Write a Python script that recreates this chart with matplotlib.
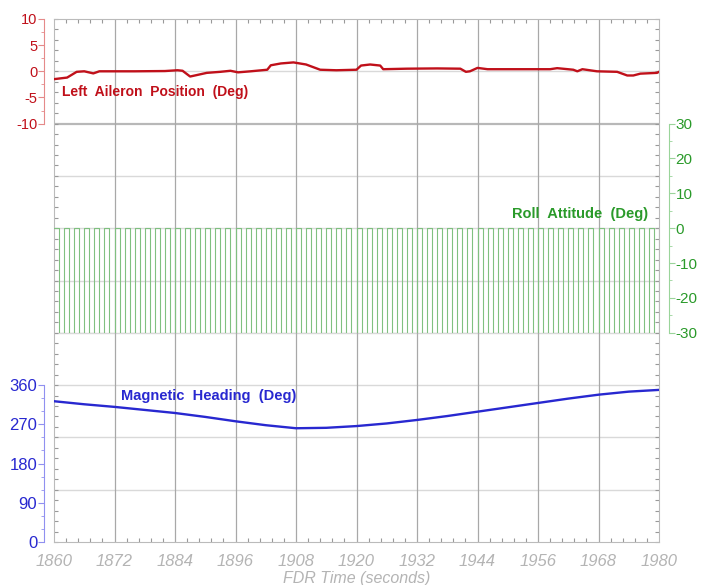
import numpy as np
import matplotlib.pyplot as plt
from matplotlib.ticker import MultipleLocator

plt.rcParams['font.family'] = ['Liberation Sans', 'DejaVu Sans']
plt.rcParams['axes.unicode_minus'] = False

# FDR traces
aileron_t = [1860, 1862.6, 1864.5, 1866, 1867.8, 1869, 1876, 1882, 1884.5, 1885.5,
             1887, 1890.3, 1893, 1895, 1896.5, 1899, 1902.3, 1903, 1905, 1907.5,
             1910, 1912.8, 1916, 1920, 1920.9, 1922.7, 1924.7, 1925.3, 1930, 1936,
             1940.6, 1941.7, 1942.5, 1944, 1946, 1952, 1958.4, 1959.8, 1963, 1963.8,
             1964.8, 1967.7, 1971.7, 1973.7, 1974.9, 1976.3, 1979.6, 1980]
aileron = [-1.5, -1.2, -0.1, 0.0, -0.4, 0.0, 0.0, 0.05, 0.2, 0.1,
           -1.0, -0.3, -0.1, 0.1, -0.2, 0.0, 0.3, 1.15, 1.5, 1.7,
           1.3, 0.3, 0.2, 0.3, 1.1, 1.3, 1.1, 0.4, 0.5, 0.55,
           0.5, -0.1, 0.0, 0.65, 0.4, 0.4, 0.4, 0.6, 0.3, 0.0,
           0.4, 0.0, -0.1, -0.8, -0.8, -0.45, -0.3, -0.1]

roll_t = np.arange(1860, 1981)
roll = [0, -30, 0, -30, 0, -30, 0, -30, 0, -30, 0, -30, 0, -30, 0, -30, 0, -30, 0, -30,
        0, -30, 0, -30, 0, -30, 0, -30, 0, -30, 0, -30, 0, -30, 0, -30, 0, -30, 0, -30,
        0, -30, 0, -30, 0, -30, 0, -30, 0, -30, 0, -30, 0, -30, 0, -30, 0, -30, 0, -30,
        0, -30, 0, -30, 0, -30, 0, -30, 0, -30, 0, -30, 0, -30, 0, -30, 0, -30, 0, -30,
        0, -30, 0, -30, 0, -30, 0, -30, 0, -30, 0, -30, 0, -30, 0, -30, 0, -30, 0, -30,
        0, -30, 0, -30, 0, -30, 0, -30, 0, -30, 0, -30, 0, -30, 0, -30, 0, -30, 0, -30,
        0]

heading_t = [1860, 1866, 1872, 1878, 1884, 1890, 1896, 1902, 1908, 1914,
             1920, 1926, 1932, 1938, 1944, 1950, 1956, 1962, 1968, 1974, 1980]
heading = [323, 316, 310, 303, 296, 287, 277, 268, 261, 262,
           266, 272, 280, 289, 299, 309, 319, 329, 338, 345, 349]

RED = '#c0101a'
GREEN = '#2a9a2a'
BLUE = '#2828d0'

fig = plt.figure(figsize=(7.01, 5.85), dpi=100)
L, B, W, H = 54 / 701, 43 / 585, 605 / 701, 523 / 585


def band(d0, d1):
    return [L, B + d0 * H / 10, W, (d1 - d0) * H / 10]


# background frame with grid
ax = fig.add_axes([L, B, W, H])
ax.set_xlim(1860, 1980)
ax.set_ylim(0, 10)
ax.xaxis.set_major_locator(MultipleLocator(12))
ax.xaxis.set_minor_locator(MultipleLocator(2.4))
ax.yaxis.set_major_locator(MultipleLocator(1))
ax.yaxis.set_minor_locator(MultipleLocator(0.2))
for y in range(1, 10):
    if y == 8:
        ax.axhline(y, color='#b8b8b8', lw=1.6, zorder=0)
    else:
        ax.axhline(y, color='#d9d9d9', lw=1.0, zorder=0)
for x in range(1872, 1980, 12):
    ax.axvline(x, color='#a8a8a8', lw=0.9, zorder=0)
ax.tick_params(axis='both', which='both', direction='in', color='#999999',
               top=True, right=True, length=3, width=0.8)
ax.tick_params(axis='y', labelleft=False)
ax.tick_params(axis='x', which='major', length=0, pad=9, labelsize=12,
               labelcolor='#b4b4b4')
for lab in ax.get_xticklabels():
    lab.set_fontstyle('italic')
for s in ax.spines.values():
    s.set_color('#bbbbbb')
ax.set_xlabel('FDR Time (seconds)', color='#b4b4b4', fontsize=11.5,
              fontstyle='italic', labelpad=1)


def overlay(pos, side, color, spine_color):
    a = fig.add_axes(pos, sharex=ax)
    a.patch.set_visible(False)
    for name, s in a.spines.items():
        s.set_visible(name == side)
    a.spines[side].set_position(('outward', 7))
    a.spines[side].set_color(spine_color)
    a.xaxis.set_visible(False)
    a.yaxis.set_ticks_position(side)
    a.tick_params(axis='y', which='both', colors=spine_color, labelcolor=color,
                  direction='out', pad=1)
    a.tick_params(axis='y', which='major', length=4)
    a.tick_params(axis='y', which='minor', length=2.5)
    return a


# aileron
a1 = overlay(band(8, 10), 'left', RED, '#e58a8a')
a1.plot(aileron_t, aileron, color=RED, lw=1.7)
a1.set_ylim(-10, 10)
a1.yaxis.set_major_locator(MultipleLocator(5))
a1.yaxis.set_minor_locator(MultipleLocator(2.5))
a1.tick_params(axis='y', labelsize=10.5)
a1.text(1861.6, -4.0, 'Left  Aileron  Position  (Deg)', color=RED, fontsize=10,
        fontweight='bold', va='center', ha='left')

# roll
a2 = overlay(band(4, 8), 'right', GREEN, '#9ad49a')
a2.plot(roll_t, roll, color='#80c080', lw=0.8, drawstyle='steps-post')
a2.set_ylim(-30, 30)
a2.yaxis.set_major_locator(MultipleLocator(10))
a2.yaxis.set_minor_locator(MultipleLocator(5))
a2.tick_params(axis='y', labelsize=11)
a2.text(1977.8, 4.0, 'Roll  Attitude  (Deg)', color=GREEN, fontsize=10.5,
        fontweight='bold', va='center', ha='right')

# heading
a3 = overlay(band(0, 3), 'left', BLUE, '#9090f0')
a3.plot(heading_t, heading, color=BLUE, lw=1.7)
a3.set_ylim(0, 360)
a3.yaxis.set_major_locator(MultipleLocator(90))
a3.yaxis.set_minor_locator(MultipleLocator(30))
a3.tick_params(axis='y', labelsize=12)
a3.text(1873.3, 335, 'Magnetic  Heading  (Deg)', color=BLUE, fontsize=10.5,
        fontweight='bold', va='center', ha='left')

ax.set_xlim(1860, 1980)
fig.savefig('out.png', dpi=100)
